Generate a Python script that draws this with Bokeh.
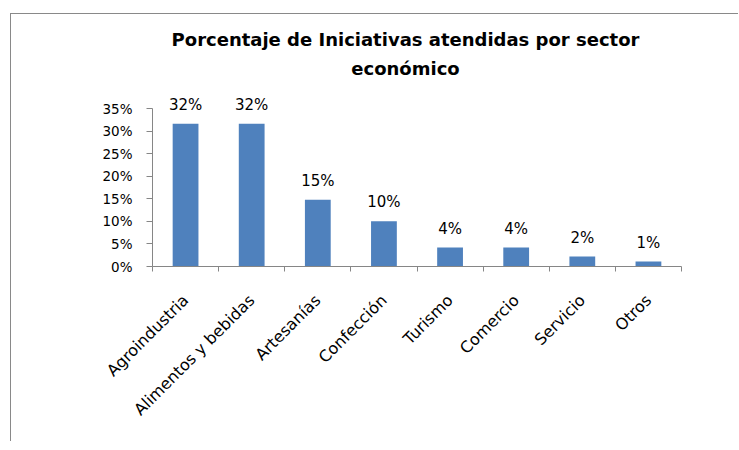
import math
from bokeh.plotting import figure
from bokeh.models import Range1d, FixedTicker, NumeralTickFormatter, ColumnDataSource, LabelSet, Label
from bokeh.core.properties import value
from bokeh.embed import file_html
from bokeh.resources import INLINE

title_lines = ["Porcentaje de Iniciativas atendidas por sector", "económico"]
categories = ["Agroindustria", "Alimentos y bebidas", "Artesanías", "Confección",
              "Turismo", "Comercio", "Servicio", "Otros"]
percentages = [0.316, 0.316, 0.148, 0.100, 0.042, 0.042, 0.022, 0.011]
y_ticks = [0.0, 0.05, 0.10, 0.15, 0.20, 0.25, 0.30, 0.35]

FONT = "DejaVu Sans"
AXIS = "#868686"
BAR = "#4F81BD"

# layout (pixels)
W, H = 728, 428
FRAME_H = 252           # frame spans whole top area so labels/title are not clipped
AXIS_H = 158            # pixel height of the 0..35% axis
y_end = y_ticks[-1] * FRAME_H / AXIS_H

n = len(categories)
xs = [i + 0.5 for i in range(n)]
src = ColumnDataSource(dict(x=xs, top=percentages,
                            label=["{:.0%}".format(v) for v in percentages]))

p = figure(width=W, height=H, x_range=Range1d(0, n), y_range=Range1d(0, y_end),
           output_backend="svg", toolbar_location=None,
           min_border_left=141, min_border_right=58, min_border_top=0,
           min_border_bottom=H - FRAME_H)
p.styles = {"margin-left": "10px", "margin-top": "13px",
            "border-left": "1px solid #898989", "border-top": "1px solid #898989"}
p.outline_line_color = None
p.xgrid.visible = False
p.ygrid.visible = False
p.background_fill_color = "white"
p.border_fill_color = "white"

p.vbar(x="x", top="top", width=0.39, source=src, fill_color=BAR, line_color=None)

p.add_layout(LabelSet(x="x", y="top", text="label", source=src, y_offset=14,
                      text_align="center", text_baseline="alphabetic",
                      text_font=value(FONT), text_font_size="15px", text_color="#000000"))

# title (screen units measured from frame's bottom-left)
p.add_layout(Label(x=253, y=227, x_units="screen", y_units="screen", text=title_lines[0],
                   text_align="center", text_baseline="alphabetic", text_font=FONT,
                   text_font_style="bold", text_font_size="18px", text_color="#000000"))
p.add_layout(Label(x=253, y=198, x_units="screen", y_units="screen", text=title_lines[1],
                   text_align="center", text_baseline="alphabetic", text_font=FONT,
                   text_font_style="bold", text_font_size="18px", text_color="#000000"))

# x axis
xa = p.xaxis[0]
xa.ticker = FixedTicker(ticks=xs, minor_ticks=list(range(n + 1)))
xa.major_label_overrides = {x: c for x, c in zip(xs, categories)}
xa.major_tick_in = 0
xa.major_tick_out = 0
xa.minor_tick_in = 0
xa.minor_tick_out = 5
xa.major_label_orientation = math.pi / 4
xa.major_label_standoff = 26
xa.major_label_text_font = FONT
xa.major_label_text_font_size = "16px"
xa.major_label_text_color = "#000000"
xa.axis_line_color = AXIS
xa.minor_tick_line_color = AXIS

# y axis
ya = p.yaxis[0]
ya.ticker = FixedTicker(ticks=y_ticks)
ya.bounds = (y_ticks[0], y_ticks[-1])
ya.formatter = NumeralTickFormatter(format="0%")
ya.major_tick_in = 0
ya.major_tick_out = 6
ya.minor_tick_line_color = None
ya.major_label_standoff = 14
ya.major_label_text_font = FONT
ya.major_label_text_font_size = "13.5px"
ya.major_label_text_color = "#000000"
ya.axis_line_color = AXIS
ya.major_tick_line_color = AXIS

open("out.html", "w").write(file_html(p, INLINE))
